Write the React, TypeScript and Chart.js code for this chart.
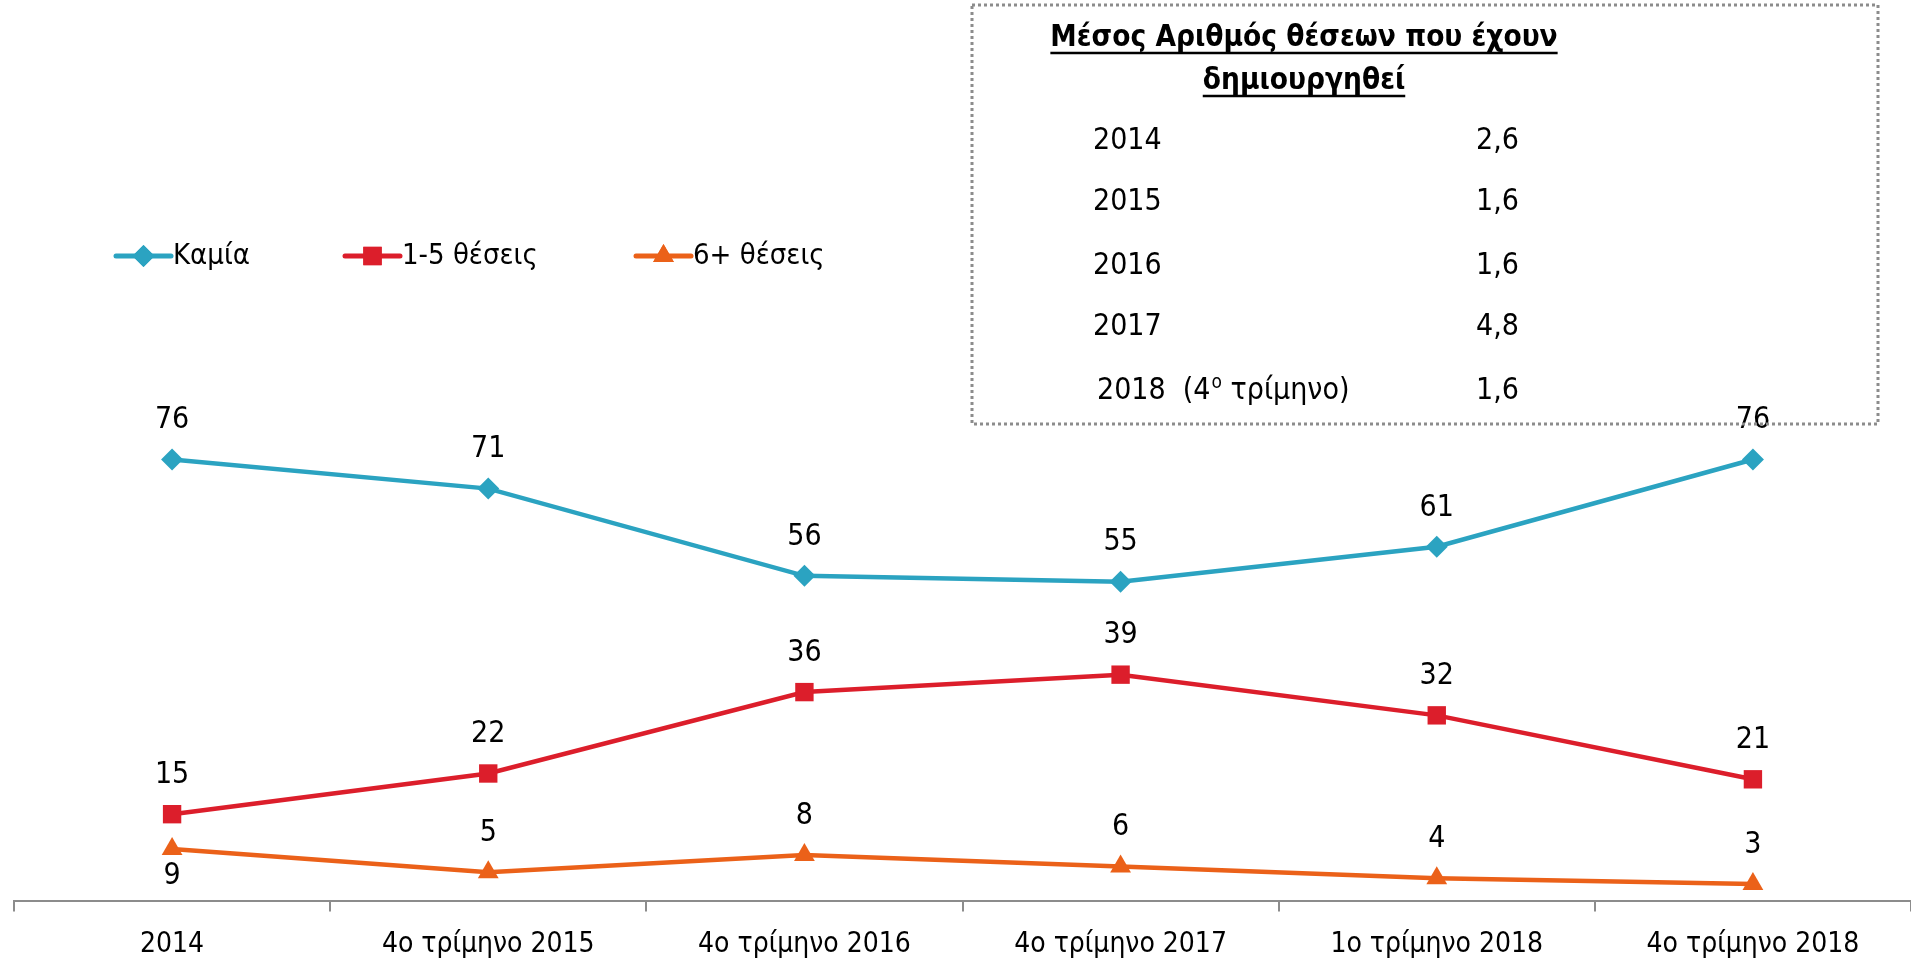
import React, { useEffect, useRef } from "react";
import { Chart, registerables } from "chart.js";
import { drawPoint } from "chart.js/helpers";

Chart.register(...registerables);

// ---------- data ----------
const categories = [
  "2014",
  "4ο τρίμηνο 2015",
  "4ο τρίμηνο 2016",
  "4ο τρίμηνο 2017",
  "1ο τρίμηνο 2018",
  "4ο τρίμηνο 2018",
];
const seriesNames = ["Καμία", "1-5 θέσεις", "6+ θέσεις"];
const kamia = [76, 71, 56, 55, 61, 76];
const theseis1to5 = [15, 22, 36, 39, 32, 21];
const theseis6plus = [9, 5, 8, 6, 4, 3];

const boxTitle = ["Μέσος Αριθμός θέσεων που έχουν", "δημιουργηθεί"];
const boxYears = ["2014", "2015", "2016", "2017", "2018"];
const boxNote = ["(4", "ο", " τρίμηνο)"];
const boxValues = ["2,6", "1,6", "1,6", "4,8", "1,6"];

// ---------- style ----------
const FONT = "'DejaVu Sans Condensed', 'Liberation Sans', sans-serif";
const COLORS = ["#2BA3C1", "#DC1E2B", "#EB6119"];
const POINT_STYLES = ["rectRot", "rect", "triangle"];
const POINT_RADII = [11, 13, 12];

const overlayPlugin = {
  id: "overlay",
  afterDatasetsDraw(chart: any) {
    const ctx = chart.ctx as CanvasRenderingContext2D;
    ctx.save();
    ctx.fillStyle = "#000";
    ctx.font = `30px ${FONT}`;
    ctx.textAlign = "center";
    ctx.textBaseline = "middle";
    chart.data.datasets.forEach((ds: any, di: number) => {
      const meta = chart.getDatasetMeta(di);
      meta.data.forEach((pt: any, i: number) => {
        const below = di === 2 && i === 0;
        const y = below ? pt.y + 27 : pt.y - 39;
        ctx.fillText(String(ds.data[i]), pt.x, y);
      });
    });
    ctx.restore();
  },
  afterDraw(chart: any) {
    const ctx = chart.ctx as CanvasRenderingContext2D;
    ctx.save();
    // legend
    const legendX = [116, 345, 636];
    const ly = 256;
    chart.data.datasets.forEach((ds: any, di: number) => {
      const x0 = legendX[di];
      ctx.strokeStyle = COLORS[di];
      ctx.lineWidth = 5;
      ctx.lineCap = "round";
      ctx.beginPath();
      ctx.moveTo(x0, ly);
      ctx.lineTo(x0 + 55, ly);
      ctx.stroke();
      ctx.fillStyle = COLORS[di];
      drawPoint(
        ctx,
        { pointStyle: POINT_STYLES[di], radius: POINT_RADII[di], rotation: 0, borderWidth: 0 } as any,
        x0 + 27.5,
        ly
      );
      ctx.fill();
      ctx.fillStyle = "#000";
      ctx.font = `29px ${FONT}`;
      ctx.textAlign = "left";
      ctx.textBaseline = "middle";
      ctx.fillText(ds.label, x0 + 57, ly);
    });

    // box
    ctx.strokeStyle = "#8c8c8c";
    ctx.lineWidth = 3;
    ctx.setLineDash([3, 3]);
    ctx.lineCap = "butt";
    ctx.strokeRect(972, 5, 906, 419);
    ctx.setLineDash([]);

    ctx.fillStyle = "#000";
    ctx.font = `bold 29.5px ${FONT}`;
    ctx.textAlign = "center";
    ctx.textBaseline = "middle";
    const titleY = [38, 81];
    boxTitle.forEach((t, i) => {
      ctx.fillText(t, 1304, titleY[i]);
      const w = ctx.measureText(t).width;
      ctx.lineWidth = 2.5;
      ctx.strokeStyle = "#000";
      ctx.beginPath();
      ctx.moveTo(1304 - w / 2, titleY[i] + 15);
      ctx.lineTo(1304 + w / 2, titleY[i] + 15);
      ctx.stroke();
    });

    const rowY = [141, 202, 266, 327, 391];
    boxYears.forEach((yr, i) => {
      ctx.textAlign = "left";
      ctx.font = `30px ${FONT}`;
      if (i === boxYears.length - 1) {
        let x = 1097;
        const first = yr + "  " + boxNote[0];
        ctx.fillText(first, x, rowY[i]);
        x += ctx.measureText(first).width + 1;
        ctx.font = `19px ${FONT}`;
        ctx.fillText(boxNote[1], x, rowY[i] - 8);
        x += ctx.measureText(boxNote[1]).width;
        ctx.font = `30px ${FONT}`;
        ctx.fillText(boxNote[2], x, rowY[i]);
      } else {
        ctx.fillText(yr, 1093, rowY[i]);
      }
      ctx.textAlign = "right";
      ctx.fillText(boxValues[i], 1519, rowY[i]);
    });
    ctx.restore();
  },
};

export default function App() {
  const ref = useRef<HTMLCanvasElement>(null);
  useEffect(() => {
    document.body.style.margin = "0";
    document.body.style.overflow = "hidden";
    const seriesData = [kamia, theseis1to5, theseis6plus];
    const chart = new Chart(ref.current!, {
      type: "line",
      data: {
        labels: categories,
        datasets: seriesNames.map((name, i) => ({
          label: name,
          data: seriesData[i],
          borderColor: COLORS[i],
          backgroundColor: COLORS[i],
          borderWidth: 4.5,
          pointStyle: POINT_STYLES[i] as any,
          pointRadius: POINT_RADII[i],
          pointHoverRadius: POINT_RADII[i],
          pointBorderWidth: 0,
          pointBackgroundColor: COLORS[i],
          tension: 0,
          clip: false as any,
        })),
      },
      options: {
        animation: false,
        responsive: true,
        maintainAspectRatio: false,
        layout: { autoPadding: false, padding: { top: 320, left: 14, right: -4, bottom: -20 } },
        plugins: { legend: { display: false }, tooltip: { enabled: false } },
        scales: {
          x: {
            type: "category",
            offset: true,
            grid: {
              offset: true,
              drawOnChartArea: false,
              drawTicks: true,
              tickLength: 10,
              color: "#8c8c8c",
              lineWidth: 2,
            },
            border: { display: true, color: "#8c8c8c", width: 2 },
            ticks: {
              color: "#000",
              padding: 17,
              font: { family: FONT, size: 28 },
              maxRotation: 0,
              autoSkip: false,
            },
          },
          y: { display: false, min: 0, max: 100 },
        },
      },
      plugins: [overlayPlugin],
    });
    return () => chart.destroy();
  }, []);
  return (
    <div style={{ position: "relative", width: 1911, height: 959 }}>
      <canvas ref={ref} />
    </div>
  );
}
